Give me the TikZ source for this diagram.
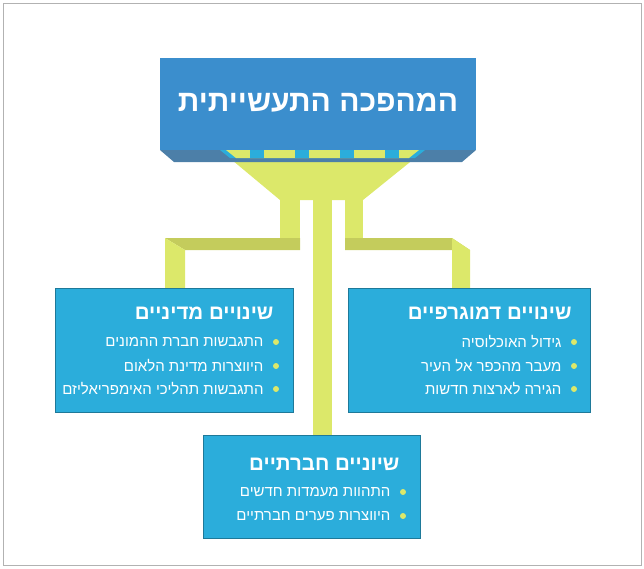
\documentclass[tikz,border=0pt]{standalone}
\usepackage{fontspec}
\setmainfont{Liberation Sans}
\newfontfamily\hebfont[Script=Hebrew]{Liberation Sans}
\TeXXeTstate=1
\definecolor{boxcyan}{HTML}{2BADDB}
\definecolor{topblue}{HTML}{3B8ECD}
\definecolor{bevel}{HTML}{4C7FA8}
\definecolor{linkyellow}{HTML}{DCE86A}
\definecolor{linkshade}{HTML}{C4CC5C}
\tikzset{
  topic/.style={fill=boxcyan, draw=boxcyan!70!black, line width=0.6pt},
  heading/.style={anchor=east, text=white, font=\hebfont\bfseries\fontsize{20.5}{22}\selectfont},
  item/.style={anchor=east, text=white, font=\hebfont\fontsize{15}{17}\selectfont},
  dot/.style={circle, fill=linkyellow, inner sep=0pt, minimum size=6pt},
  link/.style={fill=linkyellow}
}
\newcommand{\heb}[1]{\beginR #1\endR}
\begin{document}
\begin{tikzpicture}[x=1pt, y=-1pt]
  \useasboundingbox (0,0) rectangle (644,568);
  \draw [gray!60, line width=1pt] (3,3) rectangle (641,565);

  % yellow links
  \fill [link] (220,150) -- (425,150) -- (363,200) -- (280,200) -- cycle;
  \fill [link] (313,200) rectangle (332,437);
  \fill [link] (280,200) rectangle (300,238);
  \fill [linkshade] (165,238) -- (300,238) -- (300,250) -- (185,250) -- cycle;
  \fill [link] (165,238) -- (185,250) -- (185,290) -- (165,290) -- cycle;
  \fill [link] (345,200) rectangle (363,238);
  \fill [linkshade] (345,238) -- (452,238) -- (470,250) -- (345,250) -- cycle;
  \fill [link] (452,238) -- (470,250) -- (470,290) -- (452,290) -- cycle;

  % top box
  \fill [bevel] (160,150) -- (476,150) -- (462,162) -- (174,162) -- cycle;
  \fill [boxcyan] (220,150) -- (230,158) -- (415,158) -- (425,150) -- cycle;
  \fill [link] (226,150) -- (236,158) -- (409,158) -- (419,150) -- cycle;
  \foreach \x in {250,295,340,385}
    \fill [boxcyan] (\x,150) rectangle +(14,8);
  \node (top) [fill=topblue, minimum width=316pt, minimum height=92pt, anchor=north west] at (160,58) {};
  \node (toptext) [text=white, font=\hebfont\bfseries\fontsize{30}{34}\selectfont] at (318,103) {\heb{המהפכה התעשייתית}};

  % boxes
  \node (pol) [topic, minimum width=238pt, minimum height=124pt, anchor=north west] at (55,288) {};
  \node (dem) [topic, minimum width=242pt, minimum height=124pt, anchor=north west] at (348,288) {};
  \node (soc) [topic, minimum width=217pt, minimum height=103pt, anchor=north west] at (203,435) {};

  \node (polh) [heading] at (277,313) {\heb{שינויים מדיניים}};
  \node (poli1) [item] at (267,342) {\heb{התגבשות חברת ההמונים}};
  \node (poli2) [item] at (267,366) {\heb{היווצרות מדינת הלאום}};
  \node (poli3) [item] at (267,389) {\heb{התגבשות תהליכי האימפריאליזם}};
  \foreach \y in {342,366,389} \node [dot] at (276,\y) {};

  \node (demh) [heading] at (575,313) {\heb{שינויים דמוגרפיים}};
  \node (demi1) [item] at (565,342) {\heb{גידול האוכלוסיה}};
  \node (demi2) [item] at (565,366) {\heb{מעבר מהכפר אל העיר}};
  \node (demi3) [item] at (565,389) {\heb{הגירה לארצות חדשות}};
  \foreach \y in {342,366,389} \node [dot] at (574,\y) {};

  \node (soch) [heading] at (403,464) {\heb{שיוניים חברתיים}};
  \node (soci1) [item] at (394,492) {\heb{התהוות מעמדות חדשים}};
  \node (soci2) [item] at (394,516) {\heb{היווצרות פערים חברתיים}};
  \foreach \y in {492,516} \node [dot] at (403,\y) {};
\end{tikzpicture}
\end{document}
